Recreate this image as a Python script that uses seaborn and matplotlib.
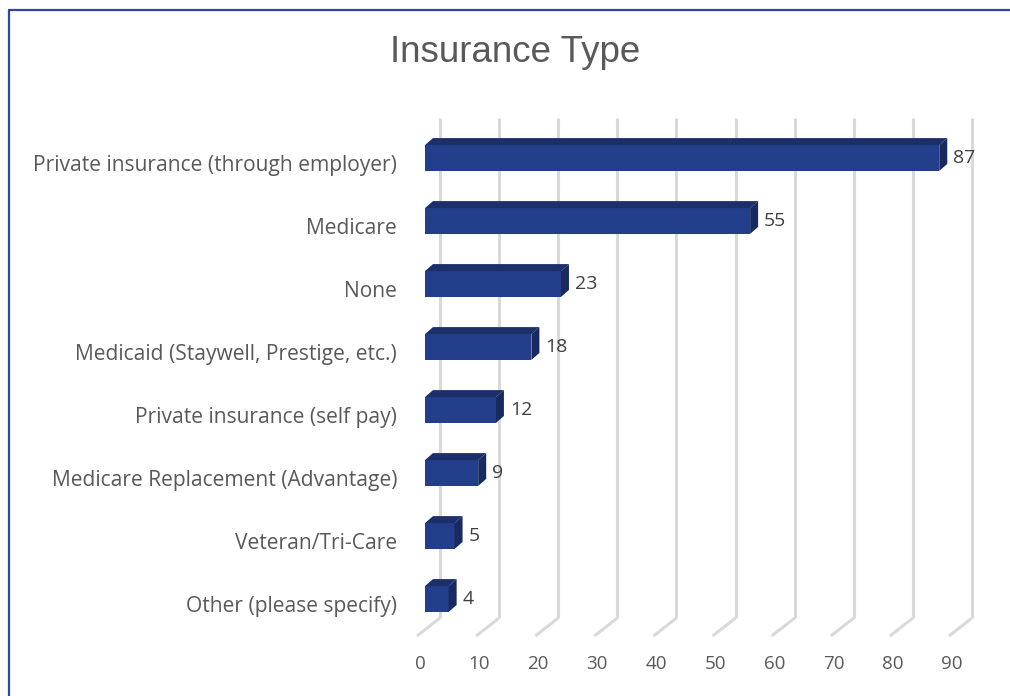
import matplotlib
matplotlib.use("Agg")
import matplotlib.pyplot as plt
import seaborn as sns
import pandas as pd
from matplotlib.patches import Polygon
from matplotlib.lines import Line2D
from matplotlib.transforms import IdentityTransform, ScaledTranslation

categories = [
    "Private insurance (through employer)",
    "Medicare",
    "None",
    "Medicaid (Staywell, Prestige, etc.)",
    "Private insurance (self pay)",
    "Medicare Replacement (Advantage)",
    "Veteran/Tri-Care",
    "Other (please specify)",
]
values = [87, 55, 23, 18, 12, 9, 5, 4]
x_ticks = [0, 10, 20, 30, 40, 50, 60, 70, 80, 90]
title = "Insurance Type"

df = pd.DataFrame({"category": categories, "value": values})

sns.set_theme(style="white")
plt.rcParams["font.family"] = ["Open Sans", "DejaVu Sans"]

W, H = 1010, 696
fig = plt.figure(figsize=(W / 100, H / 100), dpi=100)
fig.patch.set_facecolor("white")

# axes in pixel coordinates (top-left origin)
left_px, right_px, top_px, bot_px = 425, 957, 118, 636
ax = fig.add_axes([left_px / W, 1 - bot_px / H, (right_px - left_px) / W, (bot_px - top_px) / H])

front = "#233f8c"
topc = "#1c2f6b"
sidec = "#182a5f"

sns.barplot(data=df, x="value", y="category", orient="h", color=front,
            width=0.41, saturation=1, ax=ax, zorder=3, edgecolor="none")

ax.set_xlim(0, 90)
ax.set_ylim(7.587, -0.635)
for s in ax.spines.values():
    s.set_visible(False)
ax.set_xlabel("")
ax.set_ylabel("")
ax.grid(False)

# gridlines drawn as 3D walls: back vertical + floor diagonal
ppu = (right_px - left_px) / 90.0
back_dx, floor_dx = 15, -8
floor_frac = (bot_px - 618) / (bot_px - top_px)
tr = ax.get_xaxis_transform()
for v in x_ticks:
    ax.plot([v + back_dx / ppu, v + back_dx / ppu], [floor_frac, 1.0], transform=tr,
            color="#d9d9d9", lw=2.2, zorder=1, clip_on=False, solid_capstyle="butt")
    ax.plot([v + back_dx / ppu, v + floor_dx / ppu], [floor_frac, 0.0], transform=tr,
            color="#d9d9d9", lw=2.2, zorder=1, clip_on=False, solid_capstyle="butt")

ax.set_xticks(x_ticks)
ax.set_xticklabels([str(t) for t in x_ticks])
ax.tick_params(axis="x", length=0, pad=14, labelsize=13.5, labelcolor="#595959")
ax.tick_params(axis="y", length=0, pad=20, labelsize=15.1, labelcolor="#595959")
for lab in ax.get_xticklabels():
    lab.set_transform(lab.get_transform() + ScaledTranslation(-5 / 100, 0, fig.dpi_scale_trans))
for lab in ax.get_yticklabels():
    lab.set_transform(lab.get_transform() + ScaledTranslation(0, -5 / 100, fig.dpi_scale_trans))

fig.canvas.draw()
dx, dy = 8, 7
for p, v in zip(ax.patches, values):
    x0, y0 = p.get_x(), p.get_y()
    x1, y1 = x0 + p.get_width(), y0 + p.get_height()
    (dx0, dyt), = ax.transData.transform([(x0, min(y0, y1))])
    (dx1, dyb), = ax.transData.transform([(x1, max(y0, y1))])
    ytop_d = max(dyt, dyb)
    ybot_d = min(dyt, dyb)
    topface = Polygon([(dx0, ytop_d), (dx0 + dx, ytop_d + dy), (dx1 + dx, ytop_d + dy), (dx1, ytop_d)],
                      closed=True, facecolor=topc, edgecolor="none", transform=IdentityTransform(),
                      zorder=4, clip_on=False)
    side = Polygon([(dx1, ytop_d), (dx1 + dx, ytop_d + dy), (dx1 + dx, ybot_d + dy), (dx1, ybot_d)],
                   closed=True, facecolor=sidec, edgecolor="none", transform=IdentityTransform(),
                   zorder=4, clip_on=False)
    ax.add_artist(topface)
    ax.add_artist(side)
    ax.annotate(str(v), xy=(x1, (y0 + y1) / 2), xytext=(14, 0), textcoords="offset pixels",
                ha="left", va="center", fontsize=14, color="#404040", zorder=5)

fig.text(515 / W, 1 - 53 / H, title, ha="center", va="center", fontsize=26.5,
         color="#595959", family=["Liberation Sans", "DejaVu Sans"])

# chart frame (blue border on top and left)
fig.add_artist(Line2D([9 / W, 9 / W], [0, 1 - 10 / H], transform=fig.transFigure, color="#2a48a0", lw=1.6))
fig.add_artist(Line2D([9 / W, 1], [1 - 10 / H, 1 - 10 / H], transform=fig.transFigure, color="#2a48a0", lw=1.6))

fig.savefig("out.png", dpi=100, facecolor="white")
